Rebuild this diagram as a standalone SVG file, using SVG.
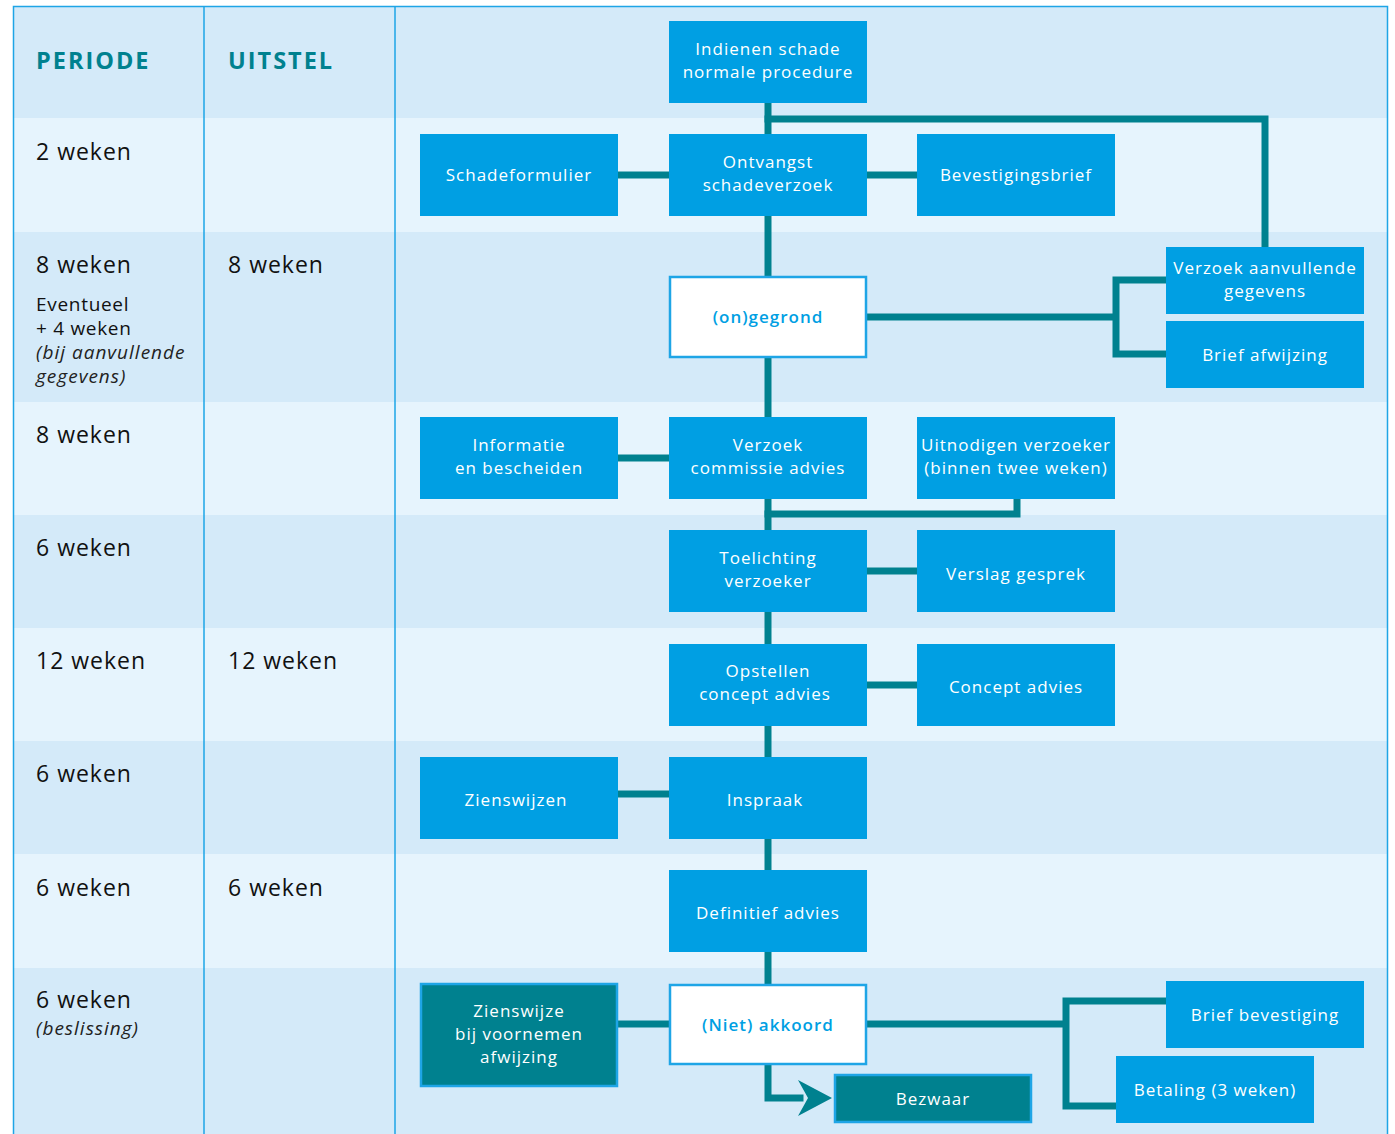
<svg xmlns="http://www.w3.org/2000/svg" width="1395" height="1134" viewBox="0 0 1395 1134">
<style>
.dark{fill:#d4eaf9}
.light{fill:#e6f4fd}
.grid{stroke:#1ea5e6;stroke-width:1.5;fill:none}
.hdr{font-family:"Open Sans",sans-serif;font-weight:700;font-size:23.5px;letter-spacing:2px;fill:#00818f}
.per{font-family:"Open Sans",sans-serif;font-size:23px;letter-spacing:1px;fill:#111}
.sub{font-family:"Open Sans",sans-serif;font-size:19px;letter-spacing:0.7px;fill:#111}
.it{font-family:"Open Sans",sans-serif;font-size:19px;letter-spacing:1px;font-style:italic;fill:#222}
.box{fill:#009fe3}
.wbox{fill:#fff;stroke:#1ea5e6;stroke-width:2.5}
.tbox{fill:#00818f;stroke:#1ea5e6;stroke-width:2.5}
.t{font-family:"Open Sans",sans-serif;font-size:17px;letter-spacing:1px;fill:#fff;text-anchor:middle}
.tb{font-family:"Open Sans",sans-serif;font-size:17px;letter-spacing:1px;font-weight:600;fill:#009fe3;text-anchor:middle}
.c{stroke:#00818f;stroke-width:7;fill:none;stroke-linejoin:miter;stroke-linecap:square}
</style>
<g id="table">
<rect class="dark" x="13" y="6" width="1375" height="112"/>
<rect class="light" x="13" y="118" width="1375" height="114"/>
<rect class="dark" x="13" y="232" width="1375" height="170"/>
<rect class="light" x="13" y="402" width="1375" height="113"/>
<rect class="dark" x="13" y="515" width="1375" height="113"/>
<rect class="light" x="13" y="628" width="1375" height="113"/>
<rect class="dark" x="13" y="741" width="1375" height="113"/>
<rect class="light" x="13" y="854" width="1375" height="114"/>
<rect class="dark" x="13" y="968" width="1375" height="166"/>
<path class="grid" d="M13.5,1134 V6.5 H1387.5 V1134 M204,6.5 V1134 M395,6.5 V1134"/>
<text class="hdr" x="36" y="69">PERIODE</text>
<text class="hdr" x="228" y="69">UITSTEL</text>
<text class="per" x="36" y="160">2 weken</text>
<text class="per" x="36" y="273">8 weken</text>
<text class="per" x="228" y="273">8 weken</text>
<text class="sub" x="36" y="311">Eventueel</text>
<text class="sub" x="36" y="335">+ 4 weken</text>
<text class="it" x="36" y="359">(bij aanvullende</text>
<text class="it" x="36" y="383">gegevens)</text>
<text class="per" x="36" y="443">8 weken</text>
<text class="per" x="36" y="556">6 weken</text>
<text class="per" x="36" y="669">12 weken</text>
<text class="per" x="228" y="669">12 weken</text>
<text class="per" x="36" y="782">6 weken</text>
<text class="per" x="36" y="896">6 weken</text>
<text class="per" x="228" y="896">6 weken</text>
<text class="per" x="36" y="1008">6 weken</text>
<text class="it" x="36" y="1035">(beslissing)</text>
</g>
<g id="connectors">
<path class="c" d="M768,103 V984"/>
<path class="c" d="M768,119 H1265 V247"/>
<path class="c" d="M618,175 H669 M867,175 H917"/>
<path class="c" d="M866,317 H1116 M1166,280 H1116 V354 H1166"/>
<path class="c" d="M618,458 H669"/>
<path class="c" d="M1017,499 V514 H768"/>
<path class="c" d="M867,571 H917"/>
<path class="c" d="M867,685 H917"/>
<path class="c" d="M618,794 H669"/>
<path class="c" d="M618,1024 H669"/>
<path class="c" d="M866,1024 H1066 M1166,1001 H1066 V1106 H1116"/>
<path class="c" d="M768,1064 V1098 H800" stroke-linecap="butt"/>
<path d="M798,1080 L832,1098 L798,1116 L808,1098 Z" fill="#00818f"/>
</g>
<g id="n1"><rect class="box" x="669" y="21" width="198" height="82"/><text class="t" x="768" y="55">Indienen schade</text><text class="t" x="768" y="78">normale procedure</text></g>
<g id="n2"><rect class="box" x="420" y="134" width="198" height="82"/><text class="t" x="519" y="181">Schadeformulier</text></g>
<g id="n3"><rect class="box" x="669" y="134" width="198" height="82"/><text class="t" x="768" y="168">Ontvangst</text><text class="t" x="768" y="191">schadeverzoek</text></g>
<g id="n4"><rect class="box" x="917" y="134" width="198" height="82"/><text class="t" x="1016" y="181">Bevestigingsbrief</text></g>
<g id="n5"><rect class="wbox" x="670" y="277" width="196" height="80"/><text class="tb" x="768" y="323">(on)gegrond</text></g>
<g id="n6"><rect class="box" x="1166" y="247" width="198" height="67"/><text class="t" x="1265" y="274">Verzoek aanvullende</text><text class="t" x="1265" y="297">gegevens</text></g>
<g id="n7"><rect class="box" x="1166" y="321" width="198" height="67"/><text class="t" x="1265" y="361">Brief afwijzing</text></g>
<g id="n8"><rect class="box" x="420" y="417" width="198" height="82"/><text class="t" x="519" y="451">Informatie</text><text class="t" x="519" y="474">en bescheiden</text></g>
<g id="n9"><rect class="box" x="669" y="417" width="198" height="82"/><text class="t" x="768" y="451">Verzoek</text><text class="t" x="768" y="474">commissie advies</text></g>
<g id="n10"><rect class="box" x="917" y="417" width="198" height="82"/><text class="t" x="1016" y="451">Uitnodigen verzoeker</text><text class="t" x="1016" y="474">(binnen twee weken)</text></g>
<g id="n11"><rect class="box" x="669" y="530" width="198" height="82"/><text class="t" x="768" y="564">Toelichting</text><text class="t" x="768" y="587">verzoeker</text></g>
<g id="n12"><rect class="box" x="917" y="530" width="198" height="82"/><text class="t" x="1016" y="580">Verslag gesprek</text></g>
<g id="n13"><rect class="box" x="669" y="644" width="198" height="82"/><text class="t" x="768" y="677">Opstellen</text><text class="t" x="765" y="700">concept advies</text></g>
<g id="n14"><rect class="box" x="917" y="644" width="198" height="82"/><text class="t" x="1016" y="693">Concept advies</text></g>
<g id="n15"><rect class="box" x="420" y="757" width="198" height="82"/><text class="t" x="516" y="806">Zienswijzen</text></g>
<g id="n16"><rect class="box" x="669" y="757" width="198" height="82"/><text class="t" x="765" y="806">Inspraak</text></g>
<g id="n17"><rect class="box" x="669" y="870" width="198" height="82"/><text class="t" x="768" y="919">Definitief advies</text></g>
<g id="n18"><rect class="tbox" x="421" y="984" width="196" height="102"/><text class="t" x="519" y="1017">Zienswijze</text><text class="t" x="519" y="1040">bij voornemen</text><text class="t" x="519" y="1063">afwijzing</text></g>
<g id="n19"><rect class="wbox" x="670" y="985" width="196" height="79"/><text class="tb" x="768" y="1031">(Niet) akkoord</text></g>
<g id="n20"><rect class="tbox" x="835" y="1075" width="196" height="47"/><text class="t" x="933" y="1105">Bezwaar</text></g>
<g id="n21"><rect class="box" x="1166" y="981" width="198" height="67"/><text class="t" x="1265" y="1021">Brief bevestiging</text></g>
<g id="n22"><rect class="box" x="1116" y="1056" width="198" height="67"/><text class="t" x="1215" y="1096">Betaling (3 weken)</text></g>
</svg>
